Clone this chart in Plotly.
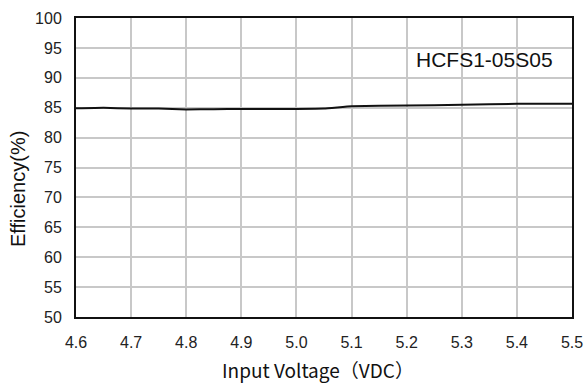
import plotly.graph_objects as go

voltage = [4.6, 4.65, 4.7, 4.75, 4.8, 4.85, 4.9, 5.0, 5.05, 5.1, 5.2, 5.3, 5.4, 5.5]
efficiency = [84.9, 85.0, 84.85, 84.85, 84.7, 84.75, 84.8, 84.8, 84.85, 85.25, 85.35, 85.5, 85.65, 85.65]
x_ticks = [4.6, 4.7, 4.8, 4.9, 5.0, 5.1, 5.2, 5.3, 5.4, 5.5]
x_labels = ["4.6", "4.7", "4.8", "4.9", "5.0", "5.1", "5.2", "5.3", "5.4", "5.5"]
y_ticks = [50, 55, 60, 65, 70, 75, 80, 85, 90, 95, 100]
model = "HCFS1-05S05"

fig = go.Figure()
fig.add_trace(go.Scatter(x=voltage, y=efficiency, mode="lines",
                         line=dict(color="#111111", width=2, shape="spline", smoothing=0.3),
                         showlegend=False, hoverinfo="skip"))

font = "Liberation Sans, Arial, sans-serif"
fig.update_layout(
    template="none",
    width=585, height=385,
    margin=dict(l=76, r=13, t=18, b=68, autoexpand=False),
    paper_bgcolor="white", plot_bgcolor="white",
    font=dict(family=font, color="#222222", size=16),
    xaxis=dict(range=[4.6, 5.5], tickvals=x_ticks, ticktext=x_labels, automargin=False,
               showgrid=True, gridcolor="#c8c8c8", gridwidth=1.5,
               showline=True, linecolor="#111111", linewidth=2, mirror=True,
               ticks="", ticklabelstandoff=10, zeroline=False,
               tickfont=dict(size=16, family=font)),
    yaxis=dict(range=[50, 100], tickvals=y_ticks, automargin=False,
               showgrid=True, gridcolor="#c8c8c8", gridwidth=1.5,
               showline=True, linecolor="#111111", linewidth=2, mirror=True,
               ticks="", ticklabelstandoff=9, zeroline=False,
               tickfont=dict(size=16, family=font)),
    annotations=[
        dict(text=model, x=0.823, y=0.86, xref="paper", yref="paper",
             showarrow=False, xanchor="center", yanchor="middle",
             font=dict(size=21, family=font, color="#111111")),
        dict(text="Input Voltage（VDC）", x=0.488, y=-0.174, xref="paper", yref="paper",
             showarrow=False, xanchor="center", yanchor="middle",
             font=dict(size=19, family="Noto Sans CJK SC, Noto Sans, sans-serif", color="#111111")),
        dict(text="Efficiency(%)", x=-0.117, y=0.428, xref="paper", yref="paper",
             showarrow=False, textangle=-90, xanchor="center", yanchor="middle",
             font=dict(size=20, family=font, color="#111111")),
    ],
)

fig.write_html("out.html", config={"displayModeBar": False},
               post_script="document.body.style.margin='0';document.body.style.overflow='hidden';")
